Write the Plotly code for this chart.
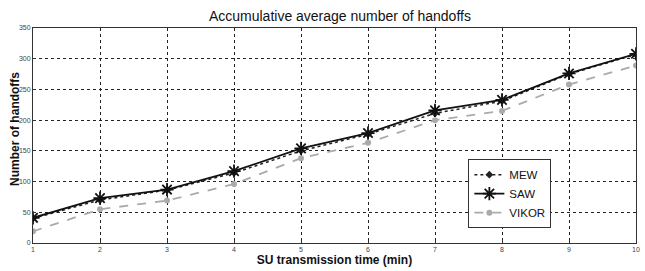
import plotly.graph_objects as go

time_min = [1, 2, 3, 4, 5, 6, 7, 8, 9, 10]
mew = [40, 70, 86, 114, 150, 177, 211, 231, 275, 307]
saw = [41, 73, 87, 117, 154, 179, 216, 233, 276, 308]
vikor = [19, 55, 69, 96, 138, 163, 200, 215, 258, 289]
y_ticks = [0, 50, 100, 150, 200, 250, 300, 350]

fig = go.Figure()
fig.add_trace(go.Scatter(x=time_min, y=mew, name="MEW", mode="lines+markers",
                         line=dict(color="#222", width=1.5, dash="dot"),
                         marker=dict(symbol="diamond", size=6, color="#222")))
fig.add_trace(go.Scatter(x=time_min, y=saw, name="SAW", mode="lines+markers",
                         line=dict(color="#111", width=1.8),
                         marker=dict(symbol="asterisk-open", size=11,
                                     line=dict(color="#111", width=1.8))))
fig.add_trace(go.Scatter(x=time_min, y=vikor, name="VIKOR", mode="lines+markers",
                         line=dict(color="#aaa", width=1.8, dash="dash"),
                         marker=dict(symbol="circle", size=6, color="#aaa")))

axis_common = dict(showline=True, linecolor="#333", linewidth=1, mirror=True,
                   showgrid=True, gridcolor="#222", gridwidth=1, griddash="3px,3px",
                   ticks="inside", ticklen=3, tickcolor="#333", zeroline=False,
                   tickfont=dict(family="Liberation Sans, Arial", size=7, color="#444"))

fig.update_xaxes(range=[1, 10], tickvals=time_min, **axis_common,
                 title=dict(text="<b>SU transmission time (min)</b>", standoff=1,
                            font=dict(family="Liberation Sans, Arial", size=12, color="#111")))
fig.update_yaxes(range=[0, 350], tickvals=y_ticks, **axis_common)

fig.add_annotation(text="<b>Number of handoffs</b>", textangle=-90,
                   xref="paper", yref="paper", x=-0.03, y=0.53,
                   xanchor="center", yanchor="middle", showarrow=False,
                   font=dict(family="Liberation Sans, Arial", size=12, color="#111"))

fig.update_layout(
    width=645, height=271,
    margin=dict(l=33, r=5, t=28, b=28),
    paper_bgcolor="white", plot_bgcolor="white",
    title=dict(text="Accumulative average number of handoffs", x=0.527, xanchor="center",
               y=0.94, yanchor="middle",
               font=dict(family="Liberation Sans, Arial", size=14, color="#111")),
    showlegend=True,
    legend=dict(x=0.722, y=0.39, xanchor="left", yanchor="top",
                bgcolor="white", bordercolor="#333", borderwidth=1,
                font=dict(family="Liberation Sans, Arial", size=11.5, color="#111"),
                itemwidth=30, tracegroupgap=0),
)

fig.write_html("out.html", config={"displayModeBar": False},
               post_script="document.body.style.margin='0';document.body.style.padding='0';")
